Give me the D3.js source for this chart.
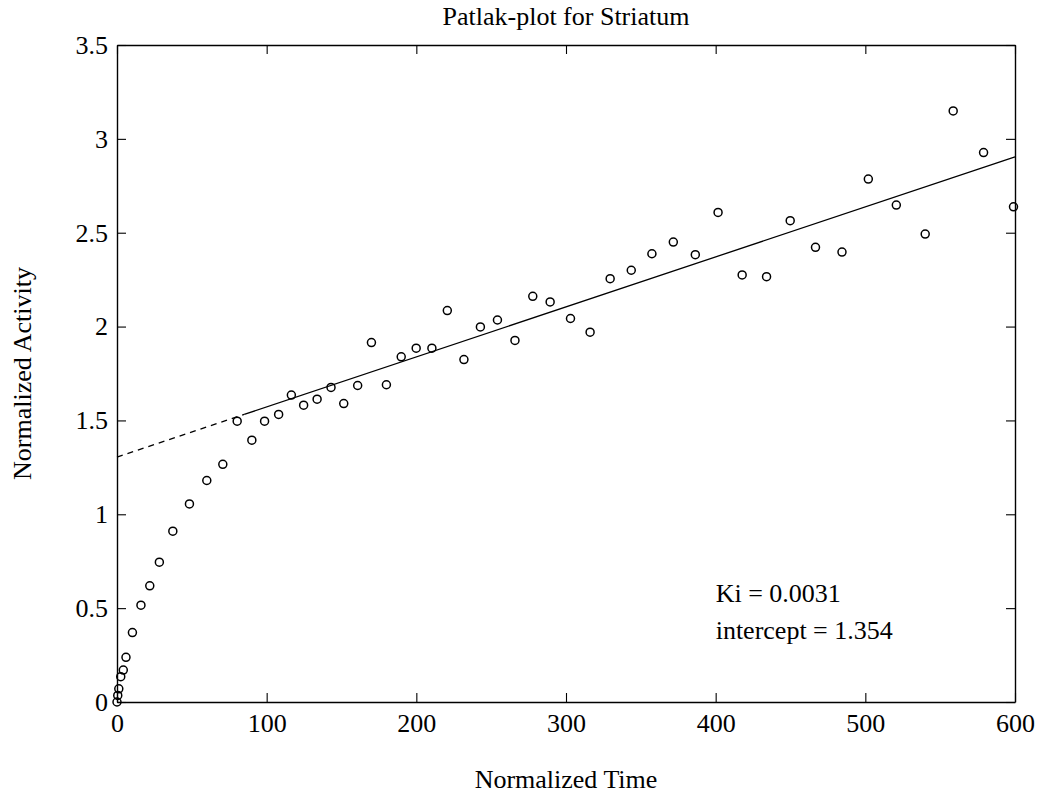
<!DOCTYPE html>
<html>
<head>
<meta charset="utf-8">
<script src="https://cdn.jsdelivr.net/npm/d3@7"></script>
<style>
  html, body { margin: 0; padding: 0; background: #fff; }
  svg { display: block; }
  text { font-family: "Liberation Serif", "Times New Roman", serif; fill: #000; }
</style>
</head>
<body>
<svg id="chart" width="1043" height="794"></svg>
<script>
// ---- data ----
const timeValues = [0, 0.5, 1.2, 2.5, 4.2, 6, 10.3, 16, 21.9, 28.3, 37.3, 48.4, 60, 70.7,
  80.3, 90.1, 98.6, 108, 116.5, 124.7, 133.7, 143, 151.5, 160.8, 170, 180, 189.9, 199.9,
  210.4, 220.7, 231.8, 242.8, 254.2, 265.9, 277.8, 289.4, 303, 316.1, 329.5, 343.6, 357.4,
  371.7, 386.4, 401.6, 417.7, 434, 449.8, 466.7, 484.4, 502, 520.7, 540, 558.7, 579, 599];
const activityValues = [0, 0.035, 0.07, 0.135, 0.17, 0.238, 0.37, 0.516, 0.619, 0.745, 0.91, 1.055, 1.18, 1.266,
  1.496, 1.395, 1.496, 1.532, 1.635, 1.581, 1.613, 1.676, 1.59, 1.686, 1.915, 1.69, 1.839, 1.885,
  1.885, 2.085, 1.824, 1.998, 2.035, 1.926, 2.161, 2.131, 2.043, 1.97, 2.255, 2.3, 2.388,
  2.45, 2.383, 2.608, 2.275, 2.266, 2.564, 2.422, 2.397, 2.786, 2.647, 2.493, 3.149, 2.927, 2.638];
// fitted line: dashed extrapolation then solid fit
const fitDashedX = [0, 85];
const fitDashedY = [1.305, 1.532];
const fitSolidX = [85, 600];
const fitSolidY = [1.532, 2.904];
const xTickValues = [0, 100, 200, 300, 400, 500, 600];
const xTickLabels = ["0", "100", "200", "300", "400", "500", "600"];
const yTickValues = [0, 0.5, 1, 1.5, 2, 2.5, 3, 3.5];
const yTickLabels = ["0", "0.5", "1", "1.5", "2", "2.5", "3", "3.5"];
const annotationLines = ["Ki = 0.0031", "intercept = 1.354"];
const annotationX = [400, 400];
const annotationY = [0.534, 0.334];
const titleText = "Patlak-plot for Striatum";
const xLabelText = "Normalized Time";
const yLabelText = "Normalized Activity";

// ---- layout ----
const W = 1043, H = 794;
const pLeft = 117, pRight = 1015, pTop = 45, pBottom = 702;
const svg = d3.select("#chart");
svg.append("rect").attr("width", W).attr("height", H).attr("fill", "#fff");

const x = d3.scaleLinear().domain([0, 600]).range([pLeft, pRight]);
const y = d3.scaleLinear().domain([0, 3.5]).range([pBottom, pTop]);

const fs = 26;
const tickLen = 9;

function styleAxis(g) {
  g.selectAll("path.domain").attr("stroke", "#000").attr("stroke-width", 1.4);
  g.selectAll(".tick line").attr("stroke", "#000").attr("stroke-width", 1.1);
  g.selectAll("text").attr("font-size", fs).attr("font-family", "Liberation Serif, serif").attr("fill", "#000");
}

svg.append("g").attr("transform", `translate(0,${pBottom})`)
  .call(d3.axisBottom(x).tickValues(xTickValues).tickFormat((d, i) => xTickLabels[i])
    .tickSizeInner(-tickLen).tickSizeOuter(0).tickPadding(12))
  .call(styleAxis);
svg.append("g").attr("transform", `translate(0,${pTop})`)
  .call(d3.axisTop(x).tickValues(xTickValues).tickFormat("")
    .tickSizeInner(-tickLen).tickSizeOuter(0))
  .call(styleAxis);
svg.append("g").attr("transform", `translate(${pLeft},0)`)
  .call(d3.axisLeft(y).tickValues(yTickValues).tickFormat((d, i) => yTickLabels[i])
    .tickSizeInner(-tickLen).tickSizeOuter(0).tickPadding(9))
  .call(styleAxis);
svg.append("g").attr("transform", `translate(${pRight},0)`)
  .call(d3.axisRight(y).tickValues(yTickValues).tickFormat("")
    .tickSizeInner(-tickLen).tickSizeOuter(0))
  .call(styleAxis);

// fit line
const lineGen = d3.line().x(d => x(d[0])).y(d => y(d[1]));
svg.append("path")
  .attr("d", lineGen(fitDashedX.map((v, i) => [v, fitDashedY[i]])))
  .attr("fill", "none").attr("stroke", "#000").attr("stroke-width", 1.3)
  .attr("stroke-dasharray", "6,5");
svg.append("path")
  .attr("d", lineGen(fitSolidX.map((v, i) => [v, fitSolidY[i]])))
  .attr("fill", "none").attr("stroke", "#000").attr("stroke-width", 1.3);

// data points
svg.append("g").selectAll("circle")
  .data(timeValues.map((t, i) => [t, activityValues[i]]))
  .join("circle")
  .attr("cx", d => x(d[0])).attr("cy", d => y(d[1]))
  .attr("r", 4)
  .attr("fill", "none").attr("stroke", "#000").attr("stroke-width", 1.5);

// annotations
svg.append("g").selectAll("text")
  .data(annotationLines)
  .join("text")
  .attr("x", (d, i) => x(annotationX[i]))
  .attr("y", (d, i) => y(annotationY[i]))
  .attr("font-size", fs)
  .text(d => d);

// titles
svg.append("text").attr("x", (pLeft + pRight) / 2).attr("y", 25)
  .attr("text-anchor", "middle").attr("font-size", fs).text(titleText);
svg.append("text").attr("x", (pLeft + pRight) / 2).attr("y", 788)
  .attr("text-anchor", "middle").attr("font-size", fs).text(xLabelText);
svg.append("text")
  .attr("transform", `translate(31,${(pTop + pBottom) / 2}) rotate(-90)`)
  .attr("text-anchor", "middle").attr("font-size", fs).text(yLabelText);
</script>
</body>
</html>
